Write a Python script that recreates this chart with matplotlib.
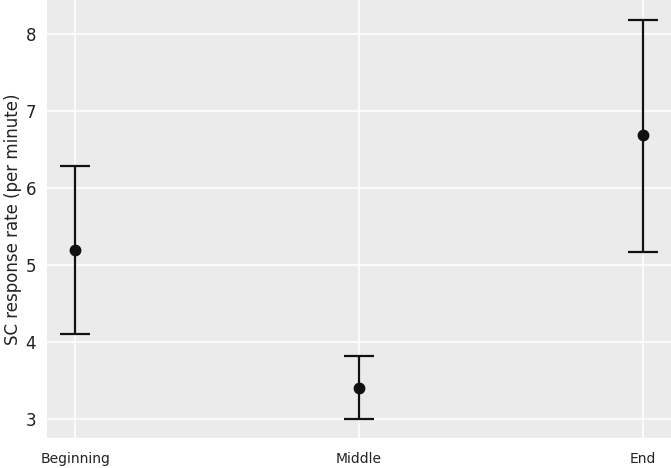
import matplotlib
matplotlib.use("Agg")
import matplotlib.pyplot as plt

phases = ["Beginning", "Middle", "End"]
means = [5.19, 3.40, 6.68]
lower = [4.10, 3.00, 5.17]
upper = [6.29, 3.81, 8.18]

fig = plt.figure(figsize=(6.71, 4.68), dpi=100)
ax = fig.add_axes([47 / 671, 30 / 468, 624 / 671, 438 / 468])
ax.set_facecolor("#EBEBEB")
for s in ax.spines.values():
    s.set_visible(False)

x = list(range(len(phases)))
err = [[m - lo for m, lo in zip(means, lower)], [hi - m for m, hi in zip(means, upper)]]
ax.errorbar(x, means, yerr=err, fmt="o", color="#111111", ecolor="#111111",
            elinewidth=1.6, capsize=10.5, capthick=1.6, markersize=7.5, zorder=3)

ax.set_xlim(-0.1, 2.1)
ax.set_ylim(2.75, 8.44)
ax.set_xticks(x)
ax.set_xticklabels(phases, fontsize=10, color="#222222")
ax.set_yticks([3, 4, 5, 6, 7, 8])
ax.tick_params(axis="y", labelsize=12, length=0, pad=8, labelcolor="#222222")
ax.tick_params(axis="x", length=0, pad=10)
ax.grid(True, color="white", linewidth=1.2)
ax.set_axisbelow(True)
ax.set_ylabel("SC response rate (per minute)", fontsize=12, labelpad=2, color="#222222")

fig.savefig("out.png", dpi=100)
